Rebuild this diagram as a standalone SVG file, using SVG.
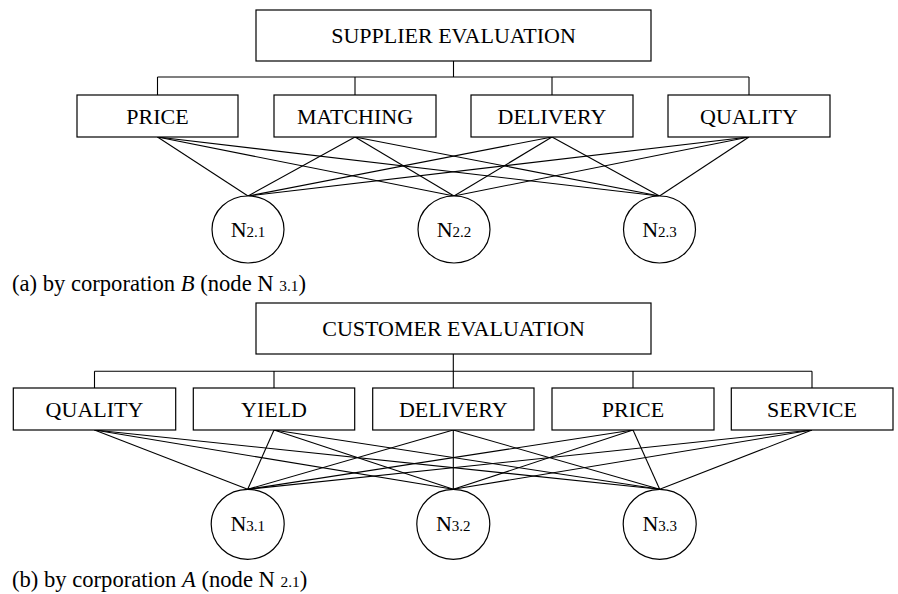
<svg xmlns="http://www.w3.org/2000/svg" width="898" height="594" viewBox="0 0 898 594">
  <style>
    .box { fill: #fff; stroke: #000; stroke-width: 1.2; }
    .node { fill: #fff; stroke: #000; stroke-width: 1.2; }
    .lbl { font-family: "Liberation Serif", "Times New Roman", serif; font-size: 22px; fill: #000; text-anchor: middle; }
    .sub { font-size: 15px; }
    .cap { font-family: "Liberation Serif", "Times New Roman", serif; font-size: 22.6px; fill: #000; }
    .capsub { font-size: 15.4px; }
    .conn line, .conn path { stroke: #000; stroke-width: 1.1; fill: none; }
  </style>
  <rect width="898" height="594" fill="#fff"/>

  <!-- connectors: hierarchy trees and criterion-to-node links -->
  <g id="connectors" class="conn">
    <!-- (a) tree -->
    <path d="M453.5,61 V77 M157.5,77 H749 M157.5,77 V95 M355,77 V95 M552,77 V95 M749,77 V95"/>
    <!-- (a) links -->
    <line x1="157.5" y1="137" x2="248" y2="196"/>
    <line x1="157.5" y1="137" x2="454" y2="196"/>
    <line x1="157.5" y1="137" x2="659.5" y2="196"/>
    <line x1="355" y1="137" x2="248" y2="196"/>
    <line x1="355" y1="137" x2="454" y2="196"/>
    <line x1="355" y1="137" x2="659.5" y2="196"/>
    <line x1="552" y1="137" x2="248" y2="196"/>
    <line x1="552" y1="137" x2="454" y2="196"/>
    <line x1="552" y1="137" x2="659.5" y2="196"/>
    <line x1="749" y1="137" x2="248" y2="196"/>
    <line x1="749" y1="137" x2="454" y2="196"/>
    <line x1="749" y1="137" x2="659.5" y2="196"/>
    <!-- (b) tree -->
    <path d="M453.3,354 V371.3 M94.5,371.3 H812 M94.5,371.3 V388 M274,371.3 V388 M453.3,371.3 V388 M633,371.3 V388 M812,371.3 V388"/>
    <!-- (b) links -->
    <line x1="94.5" y1="430" x2="247.7" y2="489.3"/>
    <line x1="94.5" y1="430" x2="453.3" y2="489.3"/>
    <line x1="94.5" y1="430" x2="659.7" y2="489.3"/>
    <line x1="274" y1="430" x2="247.7" y2="489.3"/>
    <line x1="274" y1="430" x2="453.3" y2="489.3"/>
    <line x1="274" y1="430" x2="659.7" y2="489.3"/>
    <line x1="453.3" y1="430" x2="247.7" y2="489.3"/>
    <line x1="453.3" y1="430" x2="453.3" y2="489.3"/>
    <line x1="453.3" y1="430" x2="659.7" y2="489.3"/>
    <line x1="633" y1="430" x2="247.7" y2="489.3"/>
    <line x1="633" y1="430" x2="453.3" y2="489.3"/>
    <line x1="633" y1="430" x2="659.7" y2="489.3"/>
    <line x1="812" y1="430" x2="247.7" y2="489.3"/>
    <line x1="812" y1="430" x2="453.3" y2="489.3"/>
    <line x1="812" y1="430" x2="659.7" y2="489.3"/>
  </g>

  <!-- (a) supplier evaluation -->
  <g id="supplier-evaluation">
    <rect class="box" x="256" y="10" width="395" height="51"/>
    <text class="lbl" x="453.5" y="43">SUPPLIER EVALUATION</text>
  </g>
  <g id="a-price">
    <rect class="box" x="77" y="95" width="161" height="42"/>
    <text class="lbl" x="157.5" y="123.5">PRICE</text>
  </g>
  <g id="a-matching">
    <rect class="box" x="274" y="95" width="162" height="42"/>
    <text class="lbl" x="355" y="123.5">MATCHING</text>
  </g>
  <g id="a-delivery">
    <rect class="box" x="471" y="95" width="162" height="42"/>
    <text class="lbl" x="552" y="123.5">DELIVERY</text>
  </g>
  <g id="a-quality">
    <rect class="box" x="668" y="95" width="162" height="42"/>
    <text class="lbl" x="749" y="123.5">QUALITY</text>
  </g>
  <g id="n2-1">
    <ellipse class="node" cx="248" cy="229.5" rx="36" ry="33.5"/>
    <text class="lbl" x="248" y="237">N<tspan class="sub">2.1</tspan></text>
  </g>
  <g id="n2-2">
    <ellipse class="node" cx="454" cy="229.5" rx="36" ry="33.5"/>
    <text class="lbl" x="454" y="237">N<tspan class="sub">2.2</tspan></text>
  </g>
  <g id="n2-3">
    <ellipse class="node" cx="659.5" cy="229.5" rx="36" ry="33.5"/>
    <text class="lbl" x="659.5" y="237">N<tspan class="sub">2.3</tspan></text>
  </g>
  <text class="cap" x="12" y="290.5">(a) by corporation <tspan font-style="italic">B</tspan> (node N <tspan class="capsub">3.1</tspan>)</text>

  <!-- (b) customer evaluation -->
  <g id="customer-evaluation">
    <rect class="box" x="256" y="303" width="395" height="51"/>
    <text class="lbl" x="453.5" y="336">CUSTOMER EVALUATION</text>
  </g>
  <g id="b-quality">
    <rect class="box" x="13.3" y="388" width="162.4" height="42"/>
    <text class="lbl" x="94.5" y="416.5">QUALITY</text>
  </g>
  <g id="b-yield">
    <rect class="box" x="193.3" y="388" width="161.4" height="42"/>
    <text class="lbl" x="274" y="416.5">YIELD</text>
  </g>
  <g id="b-delivery">
    <rect class="box" x="372.7" y="388" width="161.3" height="42"/>
    <text class="lbl" x="453.3" y="416.5">DELIVERY</text>
  </g>
  <g id="b-price">
    <rect class="box" x="552" y="388" width="162" height="42"/>
    <text class="lbl" x="633" y="416.5">PRICE</text>
  </g>
  <g id="b-service">
    <rect class="box" x="731.3" y="388" width="161.7" height="42"/>
    <text class="lbl" x="812" y="416.5">SERVICE</text>
  </g>
  <g id="n3-1">
    <ellipse class="node" cx="247.7" cy="524.3" rx="36.5" ry="35"/>
    <text class="lbl" x="247.7" y="531">N<tspan class="sub">3.1</tspan></text>
  </g>
  <g id="n3-2">
    <ellipse class="node" cx="453.3" cy="524.3" rx="36.5" ry="35"/>
    <text class="lbl" x="453.3" y="531">N<tspan class="sub">3.2</tspan></text>
  </g>
  <g id="n3-3">
    <ellipse class="node" cx="659.7" cy="524.3" rx="36.5" ry="35"/>
    <text class="lbl" x="659.7" y="531">N<tspan class="sub">3.3</tspan></text>
  </g>
  <text class="cap" x="12" y="587">(b) by corporation <tspan font-style="italic">A</tspan> (node N <tspan class="capsub">2.1</tspan>)</text>
</svg>
